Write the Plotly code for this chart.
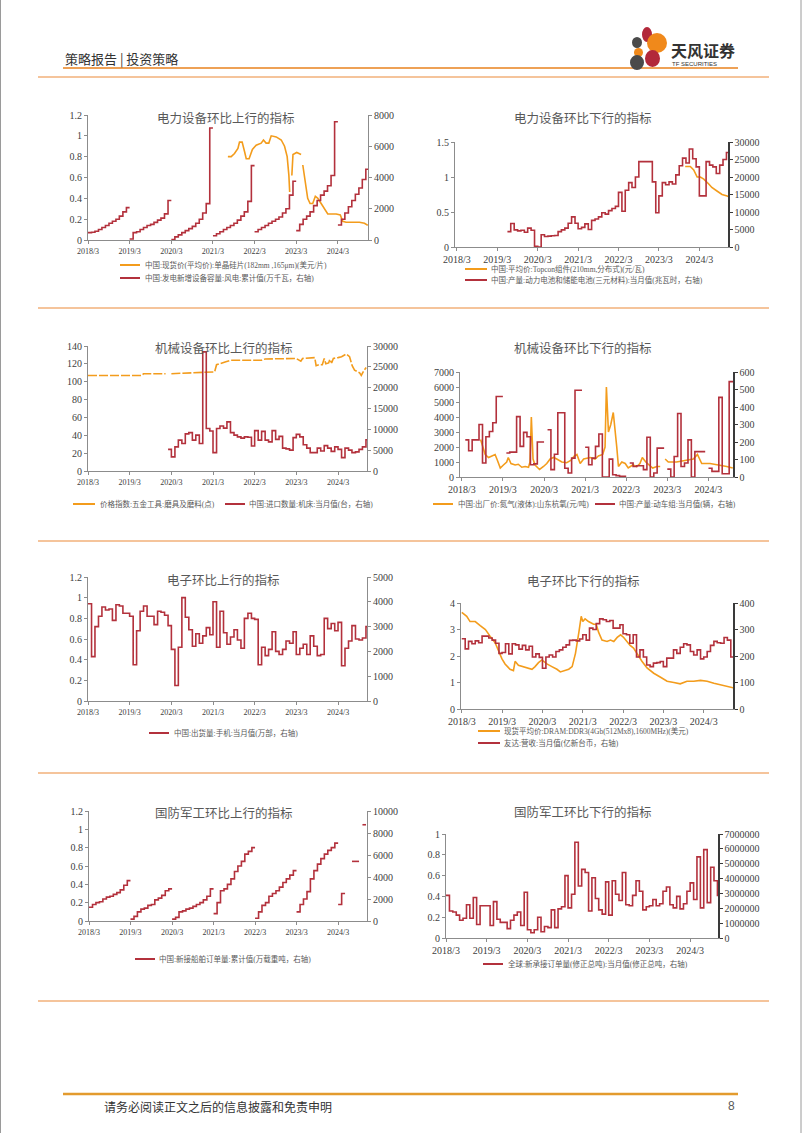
import pandas as pd
import plotly.graph_objects as go

W, H = 802, 1133
ORANGE = "#F39C1C"
RED = "#B3313C"
AX_GRAY = "#8C8C8C"
AX_DARK = "#3A3A3A"
TICK_COLOR = "#404040"
TXT = "#595959"
SERIF = "Liberation Serif, Noto Sans CJK SC, serif"
CJK = "Noto Sans CJK SC, sans-serif"
SEP = "#F2B07A"

# ---------------- data ----------------
X_TICK_DATES = ["2018-03-01", "2019-03-01", "2020-03-01", "2021-03-01",
                "2022-03-01", "2023-03-01", "2024-03-01"]
X_TICK_LABELS = ["2018/3", "2019/3", "2020/3", "2021/3", "2022/3", "2023/3", "2024/3"]

# Panel 1: 电力设备环比上行
P1_WAFER_DATES = ["2021-07-10", "2021-08-08", "2021-09-06", "2021-10-06", "2021-10-20", "2021-11-12",
                  "2021-12-03", "2021-12-18", "2022-01-12", "2022-02-10", "2022-03-15", "2022-04-28",
                  "2022-05-18", "2022-06-10", "2022-07-04", "2022-07-25", "2022-09-07", "2022-10-21",
                  "2022-11-19", "2022-12-12", "2022-12-27", "2023-01-03", "2023-01-12", "2023-01-22",
                  "2023-02-01", "2023-03-06", "2023-04-13", "2023-04-20", "2023-04-28", "2023-05-18",
                  "2023-06-10", "2023-07-01", "2023-07-24", "2023-08-16", "2023-09-07", "2023-10-06",
                  "2023-11-04", "2023-12-03", "2024-02-15", "2024-03-22", "2024-04-12", "2024-05-12",
                  "2024-09-06", "2024-10-20", "2024-11-18"]
P1_WAFER_PRICE = [0.80, 0.80, 0.83, 0.88, 0.94, 0.94, 0.85, 0.78, 0.78, 0.87, 0.91, 0.93,
                  0.96, 0.93, 0.93, 1.00, 0.99, 0.96, 0.90, 0.80, 0.62, 0.46, None, 0.62,
                  0.82, 0.84, 0.82, None, 0.72, 0.55, 0.40, 0.35, 0.35, 0.42, 0.40, 0.35,
                  0.30, 0.25, 0.25, 0.24, 0.18, 0.17, 0.17, 0.16, 0.14]
P1_WIND_SEGMENTS = [
    ("2018-03-01", [470, 500, 560, 670, 800, 930, 1070, 1200, 1330, 1530, 1800, 2070]),
    ("2019-03-01", [60, 470, 530, 670, 800, 930, 1000, 1130, 1270, 1400, 1670, 2530]),
    ("2020-03-01", [30, 200, 330, 470, 600, 730, 870, 1070, 1330, 1730, 2330, 7170]),
    ("2021-03-01", [270, 400, 530, 670, 800, 930, 1070, 1270, 1530, 1800, 2470, 4760]),
    ("2022-03-01", [530, 670, 800, 930, 1070, 1200, 1330, 1470, 1730, 2000, 2870, 3760]),
    ("2023-03-01", [600, 1000, 1330, 1530, 1800, 2200, 2530, 2870, 3130, 3470, 4130, 7570]),
    ("2024-03-01", [960, 1330, 1730, 2130, 2530, 2930, 3330, 3870, 4530]),
]

# Panel 2: 电力设备环比下行
P2_TOPCON_DATES = ["2023-10-25", "2023-12-10", "2024-01-10", "2024-02-10", "2024-03-10", "2024-04-10",
                   "2024-05-25", "2024-06-22", "2024-08-07", "2024-09-22", "2024-11-07", "2024-11-22"]
P2_TOPCON_PRICE = [1.15, 1.15, 1.10, 1.00, 1.00, 0.97, 0.90, 0.85, 0.80, 0.75, 0.73, 0.72]
P2_BATTERY_START = "2019-06-01"
P2_BATTERY = [4400, 6700, 4900, 4600, 4800, 4200, 5400,
              4800, 200, 0, 3500, 3000, 3100, 3200, 3300, 4400, 4900, 5400, 6800,
              8600, 6800, 5200, 5600, 6600, 5000, 7600, 8000, 8600, 9800, 9400, 10400,
              11000, 11600, 15600, 10200, 16200, 18400, 17000, 20000, 24400, 24400, 24400, 24400,
              18600, 9800, 14600, 18400, 17800, 18600, 18000, 20600, 23200, 25400, 24000, 28000,
              25200, 22900, 14600, 14600, 24400, 23400, 22900, 21000, 23400, 25000, 27000]

# Panel 3: 机械设备环比上行
P3_TOOL_DATES = ["2018-03-01", "2019-06-15", "2019-07-01", "2020-01-10", "2020-02-01", "2020-03-01",
                 "2020-12-15", "2021-03-15", "2021-04-01", "2021-05-01", "2021-06-15", "2021-08-01",
                 "2022-05-01", "2022-06-01", "2023-03-01", "2023-04-10", "2023-04-25", "2023-08-10",
                 "2023-08-22", "2023-09-15", "2023-10-15", "2023-11-01", "2023-11-15", "2023-12-10",
                 "2023-12-20", "2024-01-05", "2024-01-20", "2024-03-01", "2024-04-01", "2024-05-12",
                 "2024-05-25", "2024-06-10", "2024-07-03", "2024-07-24", "2024-09-06", "2024-09-21",
                 "2024-10-12", "2024-11-03"]
P3_TOOL_INDEX = [107, 107, 109, 109, None, 109,
                 110, 111, 119, 120, 122, 124,
                 124, 125.5, 126, 123, 126, 127,
                 118, 119, 119, 126, 120, 121,
                 125, 121, 126, 127, 128, 131,
                 130, 128, 118, 113, 110, 107,
                 112, 116]
P3_MACHINE_START = "2020-02-01"
P3_MACHINE_IMPORT = [5200, 3400, 5800, 7400, 6600, 8900, 9200, 7400, 8600, 6600, 28600,
                     10200, 9600, 4400, 10200, 10800, 10300, 11800, 9200, 8600, 8200, 7900, 8200,
                     8100, 6000, 9700, 7400, 9500, 7400, 7000, 9700, 7600, 8300, 5500, 5300,
                     5000, 8000, 8800, 8200, 6300, 5500, 4400, 4400, 5500, 4800, 6100, 5500,
                     4700, 5800, 5200, 3200, 5500, 5000, 4400, 4600, 5200, 5800, 7500, 9700]

# Panel 4: 机械设备环比下行
P4_N2_DATES = ["2018-08-15", "2018-09-03", "2018-09-25", "2018-10-25", "2018-11-22", "2018-12-22",
               "2019-01-12", "2019-02-06", "2019-03-06", "2019-04-04", "2019-04-18", "2019-05-12",
               "2019-06-18", "2019-07-16", "2019-08-16", "2019-09-15", "2019-10-15", "2019-10-28",
               "2019-11-09", "2019-11-24", "2019-12-12", "2020-01-21", "2020-02-25", "2020-03-25",
               "2020-04-24", "2020-05-24", "2020-06-22", "2020-08-06", "2020-09-18", "2020-10-24",
               "2020-11-24", "2020-12-18", "2021-01-16", "2021-02-16", "2021-04-15", "2021-05-28",
               "2021-06-27", "2021-08-04", "2021-08-25", "2021-09-06", "2021-09-24", "2021-10-15",
               "2021-11-06", "2021-11-19", "2021-12-07", "2021-12-22", "2022-01-21", "2022-02-20",
               "2022-03-19", "2022-04-28", "2022-06-03", "2022-07-01", "2022-07-22", "2022-08-22",
               "2022-09-24", "2022-10-22", "2022-11-28", "2022-12-28", "2023-01-10", "2023-02-10",
               "2023-03-10", "2023-05-22", "2023-08-22", "2023-10-18", "2023-11-24", "2024-01-01",
               "2024-03-15", "2024-06-12", "2024-08-10", "2024-10-03"]
P4_N2_PRICE = [2500, 2000, 1500, 1300, 1400, 1500,
               1100, 600, 800, 1000, 1300, 900,
               800, 850, 650, 700, 650, 1000,
               4000, 1200, 800, 500, 700, 900,
               1200, 1300, 1200, 1000, 950, 1100,
               1400, 1500, 900, 1200, 1300, 1200,
               1400, 1500, 2000, 6000, 3000, 3500,
               4300, 3500, 2000, 700, 1000, 900,
               600, 800, 700, 900, 1300, 1000,
               800, 600, 700, 700, None, 1200,
               1000, 1000, 1100, 1200, 1500, 900,
               900, 800, 700, 600]
P4_EMU_START = "2018-04-01"
P4_EMU = [212, 150, 212, 212, 300, 80, 230, 260, 310, 460, 460,
          None, 137, 142, 142, 345, 175, 255, 230, 70, 75, 200, 200,
          None, 270, 42, 130, 367, 367, 50, 23, 108, 496, 496,
          None, 170, 70, 108, 175, 246, 0, 0, 102, 13, 8, 4, 4,
          None, 80, 60, 64, 64, 42, 227, 0, 23, 165, 165,
          None, 45, 0, 117, 363, 60, 80, 212, 0, 145, 145, 145,
          None, 50, 32, 32, 455, 19, 19, 545, 545]

# Panel 5: 电子环比上行
P5_PHONE_START = "2018-03-01"
P5_PHONE = [3920, 1790, 3000, 3420, 3790, 3670, 3710, 3250, 3880, 3830,
            3540, 3540, 3420, 1460, 2830, 3620, 3830, 3420, 3420, 3080,
            3620, 3580, 3460, 3040, 2080, 625, 2170, 4170, 3375, 2875,
            2210, 2710, 2330, 2625, 2960, 2670, 4000, 2170, 3620, 2750,
            2290, 2580, 2875, 2460, 2125, 3330, 3540, 3330, 3290, 1460,
            2170, 1830, 2080, 2790, 2000, 1875, 2080, 2420, 2330, 2790,
            1875, 2125, 2290, 1875, 2625, 2210, 1830, 1875, 3330, 2920,
            3125, 2830, 3170, 1420, 2125, 2420, 3040, 2500, 2460, 2540, 3000]

# Panel 6: 电子环比下行
P6_DRAM_DATES = ["2018-03-01", "2018-04-15", "2018-05-15", "2018-07-01", "2018-08-15", "2018-10-01",
                 "2018-11-12", "2018-12-28", "2019-01-28", "2019-02-27", "2019-03-28", "2019-05-12",
                 "2019-06-12", "2019-06-27", "2019-07-27", "2019-09-12", "2019-10-27", "2019-11-27",
                 "2019-12-25", "2020-01-25", "2020-02-25", "2020-04-10", "2020-05-25", "2020-07-10",
                 "2020-08-10", "2020-09-10", "2020-10-25", "2020-11-25", "2020-12-25", "2021-01-25",
                 "2021-02-15", "2021-03-01", "2021-03-22", "2021-04-22", "2021-06-07", "2021-07-01",
                 "2021-07-22", "2021-08-22", "2021-10-07", "2021-11-07", "2021-12-07", "2022-01-07",
                 "2022-02-07", "2022-03-07", "2022-04-07", "2022-05-04", "2022-06-04", "2022-07-04",
                 "2022-08-19", "2022-10-04", "2022-12-04", "2023-02-04", "2023-04-04", "2023-06-04",
                 "2023-08-01", "2023-10-01", "2023-12-01", "2024-02-01", "2024-04-01", "2024-06-01",
                 "2024-08-01", "2024-09-28", "2024-11-22"]
P6_DRAM_PRICE = [3.65, 3.50, 3.30, 3.30, 3.15, 3.00,
                 2.75, 2.50, 2.20, 1.90, 1.70, 1.50,
                 1.45, 1.80, 1.65, 1.60, 1.55, 1.50,
                 1.60, 1.75, 1.85, 1.70, 1.60, 1.50,
                 1.40, 1.45, 1.50, 1.60, 2.10, 2.90,
                 3.50, 3.30, 3.40, 3.30, 3.20, 3.20,
                 2.90, 2.60, 2.55, 2.60, 2.55, 2.70,
                 2.80, 2.70, 2.55, 2.40, 2.30, 2.10,
                 1.80, 1.55, 1.35, 1.20, 1.05, 1.00,
                 0.95, 1.05, 1.05, 1.08, 1.05, 0.97,
                 0.92, 0.87, 0.80]
P6_AUO_START = "2018-03-01"
P6_AUO_REVENUE = [265, 227, 255, 246, 257, 250, 275, 275, 268, 260,
                  248, 210, 213, 246, 208, 246, 242, 226, 240, 223,
                  237, 196, 208, 195, 154, 196, 204, 196, 217, 223,
                  233, 242, 259, 260, 257, 264, 280, 260, 305, 300,
                  322, 340, 337, 330, 334, 305, 305, 318, 284, 280,
                  248, 280, 196, 223, 196, 166, 160, 173, 175, 179,
                  160, 192, 192, 223, 210, 233, 246, 242, 217, 204,
                  223, 189, 196, 217, 240, 255, 250, 248, 270, 260, 196]

# Panel 7: 国防军工环比上行
P7_SHIP_SEGMENTS = [
    ("2018-03-01", [1250, 1500, 1670, 1750, 2000, 2170, 2250, 2420, 2580, 2830, 3250, 3670]),
    ("2019-03-01", [170, 420, 830, 1080, 1170, 1420, 1500, 1920, 2080, 2330, 2750, 2920]),
    ("2020-03-01", [170, 330, 830, 920, 1080, 1170, 1330, 1500, 1670, 1920, 2250, 2920]),
    ("2021-03-01", [670, 1670, 2750, 2920, 3330, 3830, 4500, 5000, 5420, 6080, 6330, 6670]),
    ("2022-03-01", [250, 830, 1420, 1670, 2250, 2500, 2750, 3080, 3500, 3830, 4170, 4580]),
    ("2023-03-01", [830, 1500, 2000, 2670, 3830, 4580, 5170, 5670, 6080, 6420, 6670, 7080]),
    ("2024-03-01", [1500, 2500]),
    ("2024-07-01", [5420, 5420]),
    ("2024-10-01", [8750]),
]

# Panel 8: 国防军工环比下行
P8_ORDER_START = "2018-03-01"
P8_GLOBAL_ORDERS = [2870000, 1820000, 1750000, 1540000, 1190000, 1330000, 2240000, 1330000, 2730000, 910000,
                    2170000, 2170000, 2170000, 840000, 2450000, 1260000, 1050000, 1050000, 630000, 1190000,
                    1540000, 1750000, 840000, 3080000, 560000, 350000, 560000, 1400000, 420000, 770000,
                    700000, 1890000, 700000, 1960000, 2100000, 4200000, 2030000, 2940000, 6440000, 3500000,
                    4620000, 4410000, 1820000, 4060000, 2660000, 1890000, 1610000, 3780000, 1540000, 3850000,
                    2940000, 2520000, 4410000, 2240000, 2170000, 2870000, 3850000, 3150000, 1890000, 2100000,
                    2170000, 2590000, 2170000, 2310000, 3150000, 3430000, 2240000, 2030000, 2800000, 1960000,
                    2310000, 3150000, 3710000, 2590000, 5460000, 2030000, 5950000, 2380000, 4760000, 3850000,
                    2870000]

TITLES = ["电力设备环比上行的指标", "电力设备环比下行的指标", "机械设备环比上行的指标", "机械设备环比下行的指标",
          "电子环比上行的指标", "电子环比下行的指标", "国防军工环比上行的指标", "国防军工环比下行的指标"]


# ---------------- helpers ----------------
def step_xy(start, vals):
    """Monthly values drawn as steps; each month's value lasts until the next month."""
    dates = pd.date_range(start, periods=len(vals) + 1, freq="MS").strftime("%Y-%m-%d").tolist()
    xs, ys = [], []
    for i, v in enumerate(vals):
        xs.append(dates[i]); ys.append(v)
        if v is not None and (i + 1 == len(vals) or vals[i + 1] is None):
            xs.append(dates[i + 1]); ys.append(v)
    return xs, ys


def segments_xy(segs):
    xs, ys = [], []
    for start, vals in segs:
        sx, sy = step_xy(start, vals)
        xs += sx + [sx[-1]]
        ys += sy + [None]
    return xs, ys


def fx(x):
    return x / W


def fy(y):
    return 1 - y / H


# panel geometry (pixels) and axes
PANELS = [
    dict(x0=88, x1=368, y0=115, y1=240, xr=["2018-03-01", "2024-11-20"], yl=[0, 1.2], dl=0.2, yr=[0, 8000], dr=2000, col="L"),
    dict(x0=455, x1=728, y0=142, y1=247, xr=["2018-02-12", "2024-11-15"], yl=[0, 1.5], dl=0.5, yr=[0, 30000], dr=5000, col="R"),
    dict(x0=88, x1=367, y0=346, y1=471, xr=["2018-03-01", "2024-11-10"], yl=[0, 140], dl=20, yr=[0, 30000], dr=5000, col="L"),
    dict(x0=460, x1=733, y0=372, y1=477, xr=["2018-02-13", "2024-10-05"], yl=[0, 7000], dl=1000, yr=[0, 600], dr=100, col="R"),
    dict(x0=88, x1=367, y0=577, y1=701, xr=["2018-03-01", "2024-11-10"], yl=[0, 1.2], dl=0.2, yr=[0, 5000], dr=1000, col="L"),
    dict(x0=461, x1=733, y0=603, y1=709, xr=["2018-02-22", "2024-11-21"], yl=[0, 4], dl=1, yr=[0, 400], dr=100, col="R"),
    dict(x0=89, x1=367, y0=811, y1=921, xr=["2018-03-01", "2024-11-10"], yl=[0, 1.2], dl=0.2, yr=[0, 10000], dr=2000, col="L"),
    dict(x0=446, x1=718, y0=834, y1=938, xr=["2018-03-01", "2024-11-06"], yl=[0, 1], dl=0.2, yr=[0, 7000000], dr=1000000, col="R"),
]
TITLE_POS = [(226, 117), (583, 118), (224, 347), (583, 347), (224, 579), (583, 580), (224, 812), (583, 811)]

fig = go.Figure()
layout = dict(width=W, height=H, margin=dict(l=0, r=0, t=0, b=0), paper_bgcolor="white",
              plot_bgcolor="rgba(0,0,0,0)", showlegend=False)


def xname(i):
    return "x" if i == 1 else f"x{i}"


def yname(i, right):
    return f"y{2 * i}" if right else ("y" if i == 1 else f"y{2 * i - 1}")


for i, p in enumerate(PANELS, start=1):
    xk = "xaxis" if i == 1 else f"xaxis{i}"
    yl_k = "yaxis" if i == 1 else f"yaxis{2 * i - 1}"
    yr_k = f"yaxis{2 * i}"
    xfs = 8 if p["col"] == "L" else 10
    yfs = 10
    layout[xk] = dict(domain=[fx(p["x0"]), fx(p["x1"])], anchor=yname(i, False), type="date", range=p["xr"],
                      tickmode="array", tickvals=X_TICK_DATES, ticktext=X_TICK_LABELS, tickangle=0,
                      tickfont=dict(family=SERIF, size=xfs, color=TICK_COLOR), automargin=False,
                      showline=True, linecolor=AX_GRAY, linewidth=1, ticks="outside", ticklen=3,
                      tickcolor=AX_GRAY, showgrid=False, zeroline=False, fixedrange=True)
    layout[yl_k] = dict(domain=[fy(p["y1"]), fy(p["y0"])], anchor=xname(i), range=p["yl"], dtick=p["dl"],
                        tick0=0, side="left", tickfont=dict(family=SERIF, size=yfs, color=TICK_COLOR),
                        showline=True, linecolor=AX_GRAY, linewidth=1, ticks="outside", ticklen=3,
                        tickcolor=AX_GRAY, showgrid=False, zeroline=False, fixedrange=True, automargin=False,
                        tickformat="d" if p["dl"] >= 1 else "")
    rcol = AX_DARK if p["col"] == "R" else AX_GRAY
    layout[yr_k] = dict(domain=[fy(p["y1"]), fy(p["y0"])], anchor=xname(i), overlaying=yname(i, False),
                        side="right", range=p["yr"], dtick=p["dr"], tick0=0,
                        tickfont=dict(family=SERIF, size=yfs, color=TICK_COLOR), automargin=False,
                        showline=True, linecolor=rcol, linewidth=1.5 if p["col"] == "R" else 1,
                        ticks="outside", ticklen=3, tickcolor=rcol, showgrid=False, zeroline=False,
                        fixedrange=True, tickformat="d")
    # invisible anchor trace so that every left axis / subplot is drawn
    fig.add_trace(go.Scatter(x=[X_TICK_DATES[0]], y=[None], mode="lines", xaxis=xname(i),
                             yaxis=yname(i, False), hoverinfo="skip", line=dict(width=0)))


def add_line(panel, xs, ys, color, right, shape="linear", dash="solid", width=1.6):
    fig.add_trace(go.Scatter(x=xs, y=ys, mode="lines", connectgaps=False,
                             line=dict(color=color, width=width, shape=shape, dash=dash),
                             xaxis=xname(panel), yaxis=yname(panel, right), hoverinfo="skip"))


# Panel 1
add_line(1, P1_WAFER_DATES, P1_WAFER_PRICE, ORANGE, False)
x, y = segments_xy(P1_WIND_SEGMENTS)
add_line(1, x, y, RED, True, shape="hv")
# Panel 2
add_line(2, P2_TOPCON_DATES, P2_TOPCON_PRICE, ORANGE, False)
x, y = step_xy(P2_BATTERY_START, P2_BATTERY)
add_line(2, x, y, RED, True, shape="hv")
# Panel 3
add_line(3, P3_TOOL_DATES, P3_TOOL_INDEX, ORANGE, False, dash="9px,2px")
x, y = step_xy(P3_MACHINE_START, P3_MACHINE_IMPORT)
add_line(3, x, y, RED, True, shape="hv")
# Panel 4
add_line(4, P4_N2_DATES, P4_N2_PRICE, ORANGE, False)
x, y = step_xy(P4_EMU_START, P4_EMU)
add_line(4, x, y, RED, True, shape="hv")
# Panel 5
x, y = step_xy(P5_PHONE_START, P5_PHONE)
add_line(5, x, y, RED, True, shape="hv")
# Panel 6
add_line(6, P6_DRAM_DATES, P6_DRAM_PRICE, ORANGE, False)
x, y = step_xy(P6_AUO_START, P6_AUO_REVENUE)
add_line(6, x, y, RED, True, shape="hv")
# Panel 7
x, y = segments_xy(P7_SHIP_SEGMENTS)
add_line(7, x, y, RED, True, shape="hv")
# Panel 8
x, y = step_xy(P8_ORDER_START, P8_GLOBAL_ORDERS)
add_line(8, x, y, RED, True, shape="hv")

shapes, annotations = [], []


def txt(x, y, s, size, color=TXT, family=SERIF, xanchor="left"):
    annotations.append(dict(x=fx(x), y=fy(y), xref="paper", yref="paper", text=s, showarrow=False,
                            xanchor=xanchor, yanchor="middle", font=dict(family=family, size=size, color=color)))


def hline(x0, x1, y, color, width):
    shapes.append(dict(type="line", xref="paper", yref="paper", x0=fx(x0), x1=fx(x1), y0=fy(y), y1=fy(y),
                       line=dict(color=color, width=width)))


# titles
for (tx, ty), t in zip(TITLE_POS, TITLES):
    txt(tx, ty, t, 12.5, color=TXT, family=CJK, xanchor="center")

# legends
LEGENDS = [
    (120, 140, 143, 265, ORANGE, "中国:现货价(平均价):单晶硅片(182mm ,165μm)(美元/片)"),
    (120, 140, 143, 278, RED, "中国:发电新增设备容量:风电:累计值(万千瓦，右轴)"),
    (465, 487, 489, 269, ORANGE, "中国:平均价:Topcon组件(210mm,分布式)(元/瓦)"),
    (465, 487, 489, 280, RED, "中国:产量:动力电池和储能电池(三元材料):当月值(兆瓦时，右轴)"),
    (73, 95, 98, 504, ORANGE, "价格指数:五金工具:磨具及磨料(点)"),
    (225, 245, 247, 504, RED, "中国:进口数量:机床:当月值(台，右轴)"),
    (433, 453, 456, 504, ORANGE, "中国:出厂价:氮气(液体):山东杭氧(元/吨)"),
    (595, 615, 617, 504, RED, "中国:产量:动车组:当月值(辆，右轴)"),
    (149, 169, 172, 733, RED, "中国:出货量:手机:当月值(万部，右轴)"),
    (478, 500, 502, 731, ORANGE, "现货平均价:DRAM:DDR3(4Gb(512Mx8),1600MHz)(美元)"),
    (478, 500, 502, 743, RED, "友达:营收:当月值(亿新台币，右轴)"),
    (135, 155, 157, 959, RED, "中国:新接船舶订单量:累计值(万载重吨，右轴)"),
    (483, 503, 506, 964, RED, "全球:新承接订单量(修正总吨):当月值(修正总吨，右轴)"),
]
for mx0, mx1, tx, ly, col, label in LEGENDS:
    hline(mx0, mx1, ly, col, 2)
    txt(tx, ly, label, 7.5)

# page header
txt(63, 58, "策略报告 | 投资策略", 13, color="#333333", family=CJK)
hline(63, 738, 68, "#E8821E", 1.5)
for yy in [77, 308, 541, 773, 1001]:
    hline(38, 769, yy, SEP, 1.5)
# logo
for (x0, y0, x1, y1, c) in [(642, 27, 652, 42, "#B2283A"), (647, 33, 667, 53, "#F0891B"),
                            (632, 37, 642, 48, "#4A4A4A"), (634, 48, 643, 57, "#F0891B"),
                            (645, 50, 660, 67, "#B2283A"), (630, 55, 644, 70, "#4A4A4A")]:
    shapes.append(dict(type="circle", xref="paper", yref="paper", x0=fx(x0), x1=fx(x1), y0=fy(y1), y1=fy(y0),
                       fillcolor=c, line=dict(width=0)))
txt(669, 50, "<b>天风证券</b>", 16, color="#333333", family=CJK)
txt(670, 64, "TF SECURITIES", 6, color="#333333", family="Liberation Sans Narrow, Liberation Sans, sans-serif")

# footer
hline(63, 738, 1094, "#E39B2E", 2.5)
txt(102, 1106, "请务必阅读正文之后的信息披露和免责申明", 12, color="#333333", family=CJK)
txt(737, 1106, "8", 12, color="#595959", family="Liberation Sans, sans-serif", xanchor="right")

# page side borders
for xx in [0.5, 801]:
    shapes.append(dict(type="line", xref="paper", yref="paper", x0=fx(xx), x1=fx(xx), y0=0, y1=1,
                       line=dict(color="#9A9A9A", width=1)))

layout["shapes"] = shapes
layout["annotations"] = annotations
fig.update_layout(**layout)

fig.write_html("out.html", config={"displayModeBar": False, "staticPlot": True},
               post_script="document.body.style.margin='0';document.body.style.overflow='hidden';")
